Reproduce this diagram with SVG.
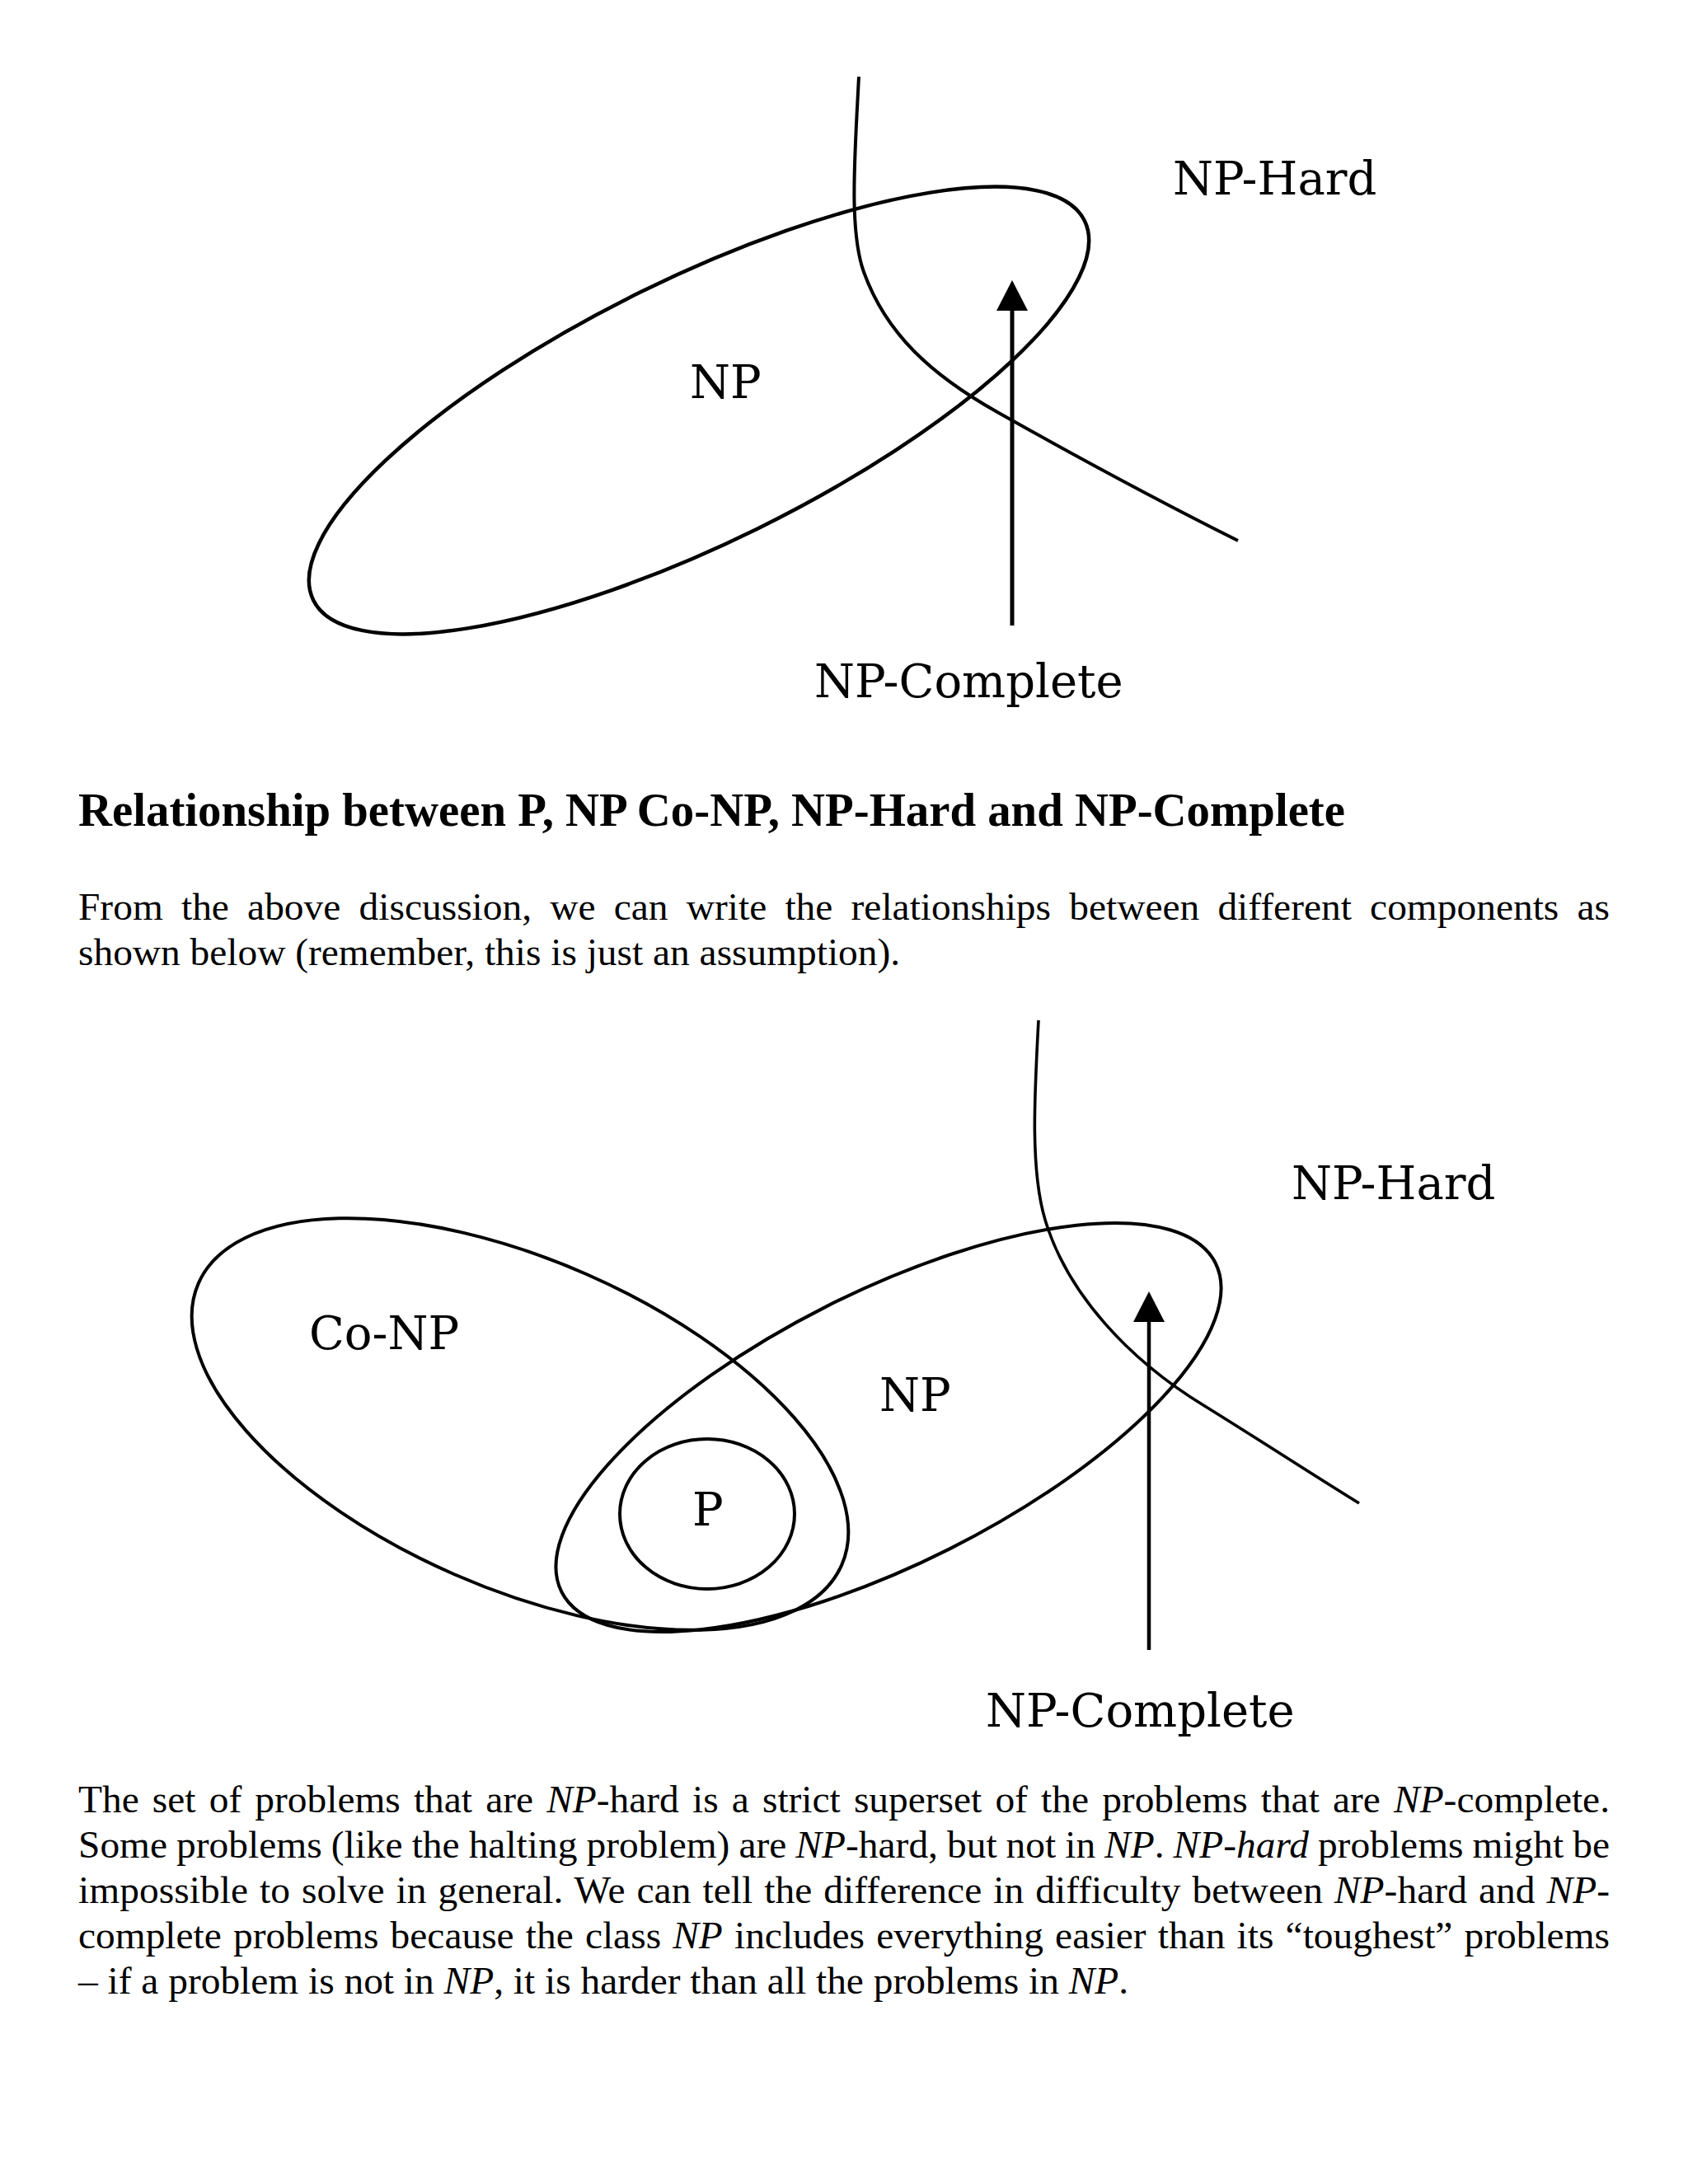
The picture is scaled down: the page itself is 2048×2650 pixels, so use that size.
<svg xmlns="http://www.w3.org/2000/svg" width="2048" height="2650" viewBox="0 0 2048 2650">
<style>
.shape{fill:none;stroke:#000;stroke-width:4.5}
.shape2{fill:none;stroke:#000;stroke-width:4}
.curve{fill:none;stroke:#000;stroke-width:4}
.curve2{fill:none;stroke:#000;stroke-width:3.6}
.arrow{fill:none;stroke:#000;stroke-width:5}
.arrow2{fill:none;stroke:#000;stroke-width:4.5}
.lbl{font-family:"DejaVu Serif",serif;font-size:56px;fill:#000}
.body{font-family:"Liberation Serif","Times New Roman",serif;font-size:47.4px;fill:#000}
.head{font-family:"Liberation Serif","Times New Roman",serif;font-size:56.8px;font-weight:bold;fill:#000}
.it{font-style:italic}
</style>
<defs>
<marker id="ah" viewBox="0 0 37 38" markerWidth="37" markerHeight="38" refX="0" refY="19" orient="auto" markerUnits="userSpaceOnUse">
<path d="M0 0 L37 19 L0 38 Z" fill="#000"/>
</marker>
</defs>
<rect width="2048" height="2650" fill="#fff"/>

<!-- Top diagram -->
<g id="top-np">
<ellipse class="shape" cx="848" cy="498" rx="521.4" ry="160.1" transform="rotate(-26.2 848 498)"/>
<text class="lbl" x="837" y="483">NP</text>
</g>
<g id="top-nphard">
<text class="lbl" x="1423" y="236">NP-Hard</text>
</g>
<g id="top-npcomplete">
<text class="lbl" x="988" y="846">NP-Complete</text>
</g>
<g id="top-connectors">
<path class="curve" d="M1042 93 C1037 190 1030 280 1048 330 C1075 405 1130 455 1210 500 C1322 563 1420 615 1502 656"/>
<line class="arrow" x1="1228" y1="759" x2="1228" y2="377" marker-end="url(#ah)"/>
</g>

<!-- Text -->
<text id="heading" class="head" x="95" y="1002" textLength="1537" lengthAdjust="spacing">Relationship between P, NP Co-NP, NP-Hard and NP-Complete</text>
<g id="para1">
<text class="body" x="95" y="1116" word-spacing="10.3" textLength="1858" lengthAdjust="spacing">From the above discussion, we can write the relationships between different components as</text>
<text class="body" x="95" y="1171">shown below (remember, this is just an assumption).</text>
</g>

<!-- Bottom diagram -->
<g id="conp">
<ellipse class="shape2" cx="631" cy="1728" rx="426" ry="199" transform="rotate(23.65 631 1728)"/>
<text class="lbl" x="375" y="1637">Co-NP</text>
</g>
<g id="np">
<ellipse class="shape2" cx="1078" cy="1732" rx="444" ry="165" transform="rotate(-26.7 1078 1732)"/>
<text class="lbl" x="1067" y="1712">NP</text>
</g>
<g id="p">
<ellipse class="shape2" cx="858" cy="1837" rx="106" ry="91"/>
<text class="lbl" x="840" y="1851">P</text>
</g>
<g id="nphard">
<text class="lbl" x="1567" y="1455">NP-Hard</text>
</g>
<g id="npcomplete">
<text class="lbl" x="1196" y="2095">NP-Complete</text>
</g>
<g id="connectors">
<path class="curve2" d="M1260 1238 C1255 1330 1250 1420 1268 1480 C1295 1570 1370 1650 1460 1705 C1520 1742 1600 1794 1649 1824"/>
<line class="arrow2" x1="1394" y1="2002" x2="1394" y2="1604" marker-end="url(#ah)"/>
</g>

<g id="para2">
<text class="body" x="95" y="2199" word-spacing="4.3" textLength="1858" lengthAdjust="spacing">The set of problems that are <tspan class="it">NP</tspan>-hard is a strict superset of the problems that are <tspan class="it">NP</tspan>-complete.</text>
<text class="body" x="95" y="2254" word-spacing="-0.9" textLength="1858" lengthAdjust="spacing">Some problems (like the halting problem) are <tspan class="it">NP</tspan>-hard, but not in <tspan class="it">NP</tspan>. <tspan class="it">NP-hard</tspan> problems might be</text>
<text class="body" x="95" y="2309" word-spacing="2.0" textLength="1858" lengthAdjust="spacing">impossible to solve in general. We can tell the difference in difficulty between <tspan class="it">NP</tspan>-hard and <tspan class="it">NP</tspan>-</text>
<text class="body" x="95" y="2364" word-spacing="2.3" textLength="1858" lengthAdjust="spacing">complete problems because the class <tspan class="it">NP</tspan> includes everything easier than its “toughest” problems</text>
<text class="body" x="95" y="2419">– if a problem is not in <tspan class="it">NP</tspan>, it is harder than all the problems in <tspan class="it">NP</tspan>.</text>
</g>
</svg>
